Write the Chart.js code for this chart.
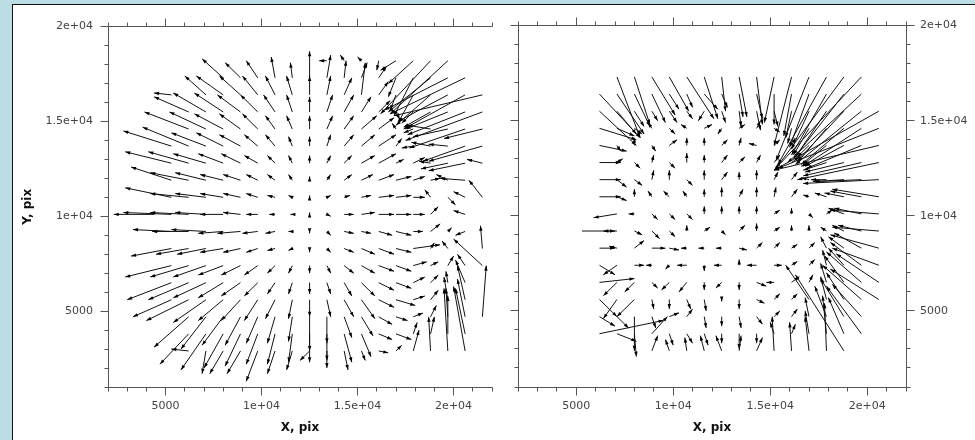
<!DOCTYPE html>
<html>
<head>
<meta charset="utf-8">
<script src="https://cdn.jsdelivr.net/npm/chart.js@4/dist/chart.umd.min.js"></script>
<style>
  body { margin: 0; width: 975px; height: 440px; overflow: hidden; position: relative; background: #badee3; font-family: "DejaVu Sans", sans-serif; }
  #frame { position: absolute; left: 12px; top: 4px; right: 0; bottom: 0; background: #fff; border-left: 1px solid #111; border-top: 1px solid #111; }
  #leftPanel { position: absolute; left: 13px; top: 5px; }
  #rightPanel { position: absolute; left: 505px; top: 5px; }
</style>
</head>
<body>
<div id="frame"></div>
<canvas id="leftPanel" width="492" height="435"></canvas>
<canvas id="rightPanel" width="470" height="435"></canvas>
<script>
const _ = null;

// grid of arrow tails (pix)
const gridX = [4400, 5300, 6200, 7100, 8000, 8900, 9800, 10700, 11600, 12500,
               13400, 14300, 15200, 16100, 17000, 17900, 18800, 19700, 20600, 21500];
const gridY = [18200, 17300, 16400, 15500, 14600, 13700, 12800, 11900, 11000,
               10100, 9200, 8300, 7400, 6500, 5600, 4700, 3800, 2900];

// axis tick labels
const tickValues = [5000, 10000, 15000, 20000];
const tickLabels = ['5000', '1e+04', '1.5e+04', '2e+04'];

// vector components, in units of 100 pix (rows follow gridY, columns follow gridX)
const leftDX = [
  [_,_,_,_,_,_,_,_,_,_,-4,-2,-2,-1,-8,-13,-26,-30,_,_],
  [_,_,_,_,-11,-8,-6,-2,-1,0,2,1,3,4,-4,-10,-22,-33,-39,_],
  [_,-9,_,-11,-14,-11,-8,-5,-3,0,2,4,2,5,-3,-8,-18,-26,-32,-46],
  [_,_,-18,-17,-15,-12,-9,-6,-3,0,3,5,5,6,2,-6,-14,-22,-30,-40],
  [_,_,-23,-19,-15,-11,-8,-5,-3,0,3,5,8,8,-2,-5,-12,-18,-29,-20],
  [_,-25,-24,-18,-14,-11,-7,-5,-2,0,2,5,7,9,3,-6,-10,-10,-22,-28],
  [_,-24,-21,-17,-13,-10,-7,-4,-2,0,2,4,7,9,4,6,-6,-14,-19,-8],
  [_,-21,-20,-16,-12,-9,-6,-4,-2,0,2,4,6,8,8,6,5,-6,-13,_],
  [_,-24,-20,-16,-12,-9,-6,-4,-2,0,2,3,5,8,8,6,-3,4,-6,-7],
  [-21,-25,-20,-16,-12,-9,-6,-3,-1,0,2,5,7,8,8,6,4,_,-6,_],
  [_,-20,-19,-18,-13,-12,-8,-5,-2,0,2,5,5,7,8,5,5,2,-5,_],
  [_,-21,-17,-15,-12,-9,-6,-4,-2,0,2,5,7,8,8,14,2,-3,_,-1],
  [_,-24,-20,-17,-13,-10,-7,-4,-2,0,2,5,7,8,8,7,4,3,-4,-15],
  [_,-23,-21,-17,-13,-10,-7,-4,-2,0,2,4,7,8,8,6,4,-1,-5,_],
  [_,-20,-22,-17,-13,-10,-7,-5,-2,0,2,5,7,8,10,6,4,-2,-4,_],
  [_,_,-18,-13,-11,-8,-6,-4,-2,0,0,4,6,7,6,5,3,-1,-4,2],
  [_,_,-15,-13,-10,-8,-6,-4,-2,0,0,4,5,7,8,2,2,0,-5,_],
  [_,_,-9,-2,-7,-7,-6,-4,-3,-5,0,2,2,5,3,3,-1,-2,-6,_]
];
const leftDY = [
  [_,_,_,_,_,_,_,_,_,_,0,3,2,-5,-5,-12,-28,-28,_,_],
  [_,_,_,_,10,8,9,11,8,14,12,9,8,6,-10,-20,-18,-17,-19,_],
  [_,1,_,10,10,10,10,10,10,10,10,9,17,7,-8,-15,-16,-14,-18,-11],
  [_,_,8,10,10,9,9,9,9,8,9,9,8,6,-4,-6,-8,-9,-12,-15],
  [_,_,9,9,8,8,8,7,7,7,7,7,7,6,3,-2,2,-4,-10,-5],
  [_,8,10,7,7,6,6,6,5,5,6,6,6,6,4,-1,2,1,-8,-8],
  [_,6,6,5,5,5,4,4,4,4,4,4,4,5,2,3,1,-3,-4,2],
  [_,7,4,4,3,3,3,3,3,2,3,3,3,3,2,2,1,3,1,_],
  [_,5,2,2,2,2,2,1,1,1,1,1,1,1,1,0,4,-4,3,9],
  [0,1,1,1,0,1,0,0,0,1,-1,0,1,0,0,0,4,_,2,_],
  [_,1,0,1,-1,-1,-1,-1,0,-1,-2,-1,-1,-2,-2,0,4,2,-2,_],
  [_,-4,-3,-3,-2,-2,-2,-1,-1,-2,-2,-2,-3,-3,-2,2,3,4,_,12],
  [_,-6,-6,-6,-5,-5,-5,-4,-4,-4,-4,-4,-4,-3,-3,2,2,5,6,14],
  [_,-9,-9,-8,-8,-7,-7,-6,-6,-6,-6,-7,-7,-4,-3,3,4,6,12,_],
  [_,-9,-11,-12,-11,-11,-11,-10,-10,-9,-9,-9,-10,-4,-3,2,5,12,18,_],
  [_,_,-16,-17,-15,-15,-14,-14,-13,-18,-14,-11,-10,-4,-2,2,6,15,20,27],
  [_,_,-16,-19,-18,-17,-16,-16,-15,-15,-18,-15,-12,-3,-3,6,9,20,24,_],
  [_,_,1,-12,-12,-12,-16,-12,-10,-5,-5,-10,-5,-1,3,11,18,33,34,_]
];

const rightDX = [
  [_,_,_,_,_,_,_,_,_,_,_,_,_,_,_,_,_,_,_,_],
  [_,_,_,12,8,12,10,14,7,2,4,3,-5,-9,-17,-25,-35,-45,_,_],
  [_,_,21,14,8,7,5,3,7,3,2,3,0,-4,-10,-18,-26,-38,_,_],
  [_,_,19,10,5,3,4,3,-3,2,1,2,2,-3,-9,-16,-24,-34,-54,_],
  [_,_,19,9,4,-2,3,-3,4,-2,3,2,3,-2,-8,-15,-22,-30,-52,_],
  [_,_,14,2,0,2,4,0,0,3,1,-4,3,2,-6,-12,-20,-28,-54,_],
  [_,_,11,3,3,1,3,0,0,3,3,2,3,4,-4,-12,-20,-30,-42,_],
  [_,_,11,5,4,1,0,3,0,3,0,0,2,3,-4,-8,-16,-24,-39,_],
  [_,_,11,5,0,-2,-3,-2,0,0,2,0,1,3,-3,-6,-10,-16,-24,_],
  [_,_,_,-12,-3,3,3,3,0,0,0,0,3,0,2,3,-8,-14,-25,_],
  [_,17,_,-7,4,4,3,0,3,2,3,0,3,0,0,-3,-6,-12,-24,_],
  [_,_,8,-4,5,7,5,-3,-3,-3,4,3,3,3,3,-3,-8,-14,-25,_],
  [_,_,8,-7,5,-3,-2,-5,0,-4,0,-5,4,3,3,-2,-8,-16,-24,_],
  [_,_,18,-7,-5,3,-4,-4,0,-3,0,5,-4,4,2,-3,-10,-18,-22,_],
  [_,_,9,-7,-9,1,0,2,1,0,0,4,3,3,-12,-3,-9,-20,-25,_],
  [_,_,8,6,0,2,5,3,1,0,1,3,3,3,-2,-6,-12,-15,_,_],
  [_,_,33,10,1,8,2,3,2,0,0,0,-2,2,-2,-2,-8,-18,_,_],
  [_,_,_,_,_,3,-2,-1,-2,-3,1,3,-1,-1,-2,-1,-25,_,_,_]
];
const rightDY = [
  [_,_,_,_,_,_,_,_,_,_,_,_,_,_,_,_,_,_,_,_],
  [_,_,_,-32,-25,-20,-18,-22,-22,-18,-21,-25,-24,-36,-44,-46,-48,-49,_,_],
  [_,_,-23,-21,-17,-15,-8,-7,-8,-7,-12,-13,-16,-22,-28,-32,-34,-36,_,_],
  [_,_,-18,-12,-8,-5,-6,-4,-5,-6,-8,-10,-8,-14,-20,-24,-26,-28,-31,_],
  [_,_,-6,-4,-3,3,-3,2,2,-3,2,4,-2,-8,-14,-18,-19,-20,-21,_],
  [_,_,-3,-3,4,-3,3,4,4,3,4,1,3,4,-6,-10,-11,-12,-13,_],
  [_,_,0,2,-3,4,-3,5,4,4,3,4,4,3,-2,-4,-5,-7,-9,_],
  [_,_,0,-4,-3,5,5,-3,5,4,4,5,4,4,1,0,-1,-1,-2,_],
  [_,_,0,-2,4,3,3,3,4,5,4,5,5,4,1,2,2,3,4,_],
  [_,_,_,-2,0,-3,-3,-3,4,4,4,4,2,3,-2,2,3,3,2,_],
  [_,0,_,0,-2,-4,-3,3,2,-2,3,4,2,3,3,2,3,3,2,_],
  [_,_,0,1,4,0,-1,0,0,0,-1,3,3,2,3,6,6,8,7,_],
  [_,_,-5,-5,0,0,-2,0,-3,0,3,0,0,2,3,8,9,12,9,_],
  [_,_,2,-7,-5,-3,-4,-5,-4,-3,-4,-2,0,3,4,10,14,16,15,_],
  [_,_,-9,-10,-9,-5,-5,-5,-6,-1,-5,-2,3,3,18,12,14,18,16,_],
  [_,_,-5,-6,-18,-6,2,4,-6,-5,-6,-4,3,4,10,16,20,17,_,_],
  [_,_,7,-4,-12,9,-6,-5,-6,-5,-8,-5,6,5,12,20,19,25,_,_],
  [_,_,_,_,_,8,6,7,8,8,8,7,18,15,18,25,40,_,_,_]
];

const VEC_UNIT = 100;

// turn the tables into {x, y, u, v} points
function buildArrows(dx, dy) {
  const pts = [];
  gridY.forEach((y, i) => {
    gridX.forEach((x, j) => {
      const u = dx[i][j];
      if (u === null || u === undefined) return;
      pts.push({ x: x, y: y, u: u * VEC_UNIT, v: dy[i][j] * VEC_UNIT });
    });
  });
  return pts;
}

// draws every arrow from its tail to its head through the chart scales
const arrowPlugin = {
  id: 'arrows',
  afterDatasetsDraw(chart) {
    const { ctx, chartArea: a, scales: { x, y } } = chart;
    ctx.save();
    ctx.beginPath();
    ctx.rect(a.left, a.top, a.right - a.left, a.bottom - a.top);
    ctx.clip();
    ctx.strokeStyle = '#111';
    ctx.fillStyle = '#000';
    ctx.lineWidth = 1;
    chart.data.datasets[0].data.forEach(p => {
      const x0 = x.getPixelForValue(p.x), y0 = y.getPixelForValue(p.y);
      const x1 = x.getPixelForValue(p.x + p.u), y1 = y.getPixelForValue(p.y + p.v);
      const ang = Math.atan2(y1 - y0, x1 - x0);
      const hl = 5, hw = 1.7;
      ctx.beginPath();
      ctx.moveTo(x0, y0);
      ctx.lineTo(x1, y1);
      ctx.stroke();
      ctx.beginPath();
      ctx.moveTo(x1, y1);
      ctx.lineTo(x1 - hl * Math.cos(ang) + hw * Math.sin(ang), y1 - hl * Math.sin(ang) - hw * Math.cos(ang));
      ctx.lineTo(x1 - hl * Math.cos(ang) - hw * Math.sin(ang), y1 - hl * Math.sin(ang) + hw * Math.cos(ang));
      ctx.closePath();
      ctx.fill();
    });
    ctx.restore();
  }
};

// frame lines with outward major / minor ticks
const frameAxes = {
  id: 'frameAxes',
  afterDraw(chart, args, opts) {
    const { ctx, chartArea: a, scales: { x, y } } = chart;
    const L = Math.floor(a.left) + 0.5, R = Math.floor(a.right) + 0.5;
    const T = Math.floor(a.top) + 0.5, B = Math.floor(a.bottom) + 0.5;
    ctx.save();
    ctx.strokeStyle = '#555';
    ctx.lineWidth = 1;
    ctx.beginPath();
    const seg = (x0, y0, x1, y1) => { ctx.moveTo(x0, y0); ctx.lineTo(x1, y1); };
    opts.sides.forEach(side => {
      const horiz = side === 'top' || side === 'bottom';
      const scale = horiz ? x : y;
      if (side === 'left') seg(L, T, L, B);
      if (side === 'right') seg(R, T, R, B);
      if (side === 'top') seg(L, T, R, T);
      if (side === 'bottom') seg(L, B, R, B);
      scale.ticks.forEach(t => {
        const len = Math.round(t.value) % 5000 === 0 ? 8 : 4;
        const p = Math.floor(scale.getPixelForValue(t.value)) + 0.5;
        if (side === 'left') seg(L - len, p, L, p);
        if (side === 'right') seg(R, p, R + len, p);
        if (side === 'top') seg(p, T - len, p, T);
        if (side === 'bottom') seg(p, B, p, B + len);
      });
    });
    ctx.stroke();
    ctx.restore();
  }
};

function tickText(v) {
  const i = tickValues.indexOf(Math.round(v));
  return i < 0 ? '' : tickLabels[i];
}

const tickFont = { family: 'DejaVu Sans', size: 11 };
const titleFont = { family: 'DejaVu Sans', size: 12, weight: 'bold' };

function makePanel(canvasId, dx, dy, opts) {
  const ctx = document.getElementById(canvasId).getContext('2d');
  return new Chart(ctx, {
    type: 'scatter',
    data: {
      datasets: [{ data: buildArrows(dx, dy), pointRadius: 0, pointHoverRadius: 0 }]
    },
    options: {
      responsive: false,
      animation: false,
      devicePixelRatio: 1,
      layout: { padding: opts.padding },
      plugins: {
        legend: { display: false },
        tooltip: { enabled: false },
        frameAxes: { sides: opts.sides }
      },
      scales: {
        x: {
          type: 'linear', min: 2000, max: 22000,
          grid: { display: false, drawTicks: false },
          border: { display: false },
          ticks: { stepSize: 1000, autoSkip: false, maxRotation: 0, padding: 13,
                   color: '#444', font: tickFont, callback: tickText },
          title: { display: true, text: 'X, pix', color: '#111', font: titleFont,
                   padding: { top: 0, bottom: 5 } },
          afterFit(s) { s.height = 53; }
        },
        y: {
          type: 'linear', min: 1000, max: 20000, position: opts.yPosition,
          grid: { display: false, drawTicks: false },
          border: { display: false },
          ticks: { stepSize: 1000, autoSkip: false, padding: opts.yPadding,
                   color: '#444', font: tickFont, callback: tickText },
          title: { display: opts.yTitle, text: 'Y, pix', color: '#111', font: titleFont,
                   padding: { top: 8, bottom: 0 } },
          afterFit(s) { s.width = opts.yWidth; }
        }
      }
    },
    plugins: [arrowPlugin, frameAxes]
  });
}

makePanel('leftPanel', leftDX, leftDY, {
  padding: { top: 12, right: 7, left: 0, bottom: 0 },
  sides: ['left', 'top', 'bottom'],
  yPosition: 'left', yPadding: 15, yWidth: 95, yTitle: true
});

makePanel('rightPanel', rightDX, rightDY, {
  padding: { top: 12, right: 0, left: 7, bottom: 0 },
  sides: ['left', 'top', 'bottom', 'right'],
  yPosition: 'right', yPadding: 14, yWidth: 69, yTitle: false
});
</script>
</body>
</html>
